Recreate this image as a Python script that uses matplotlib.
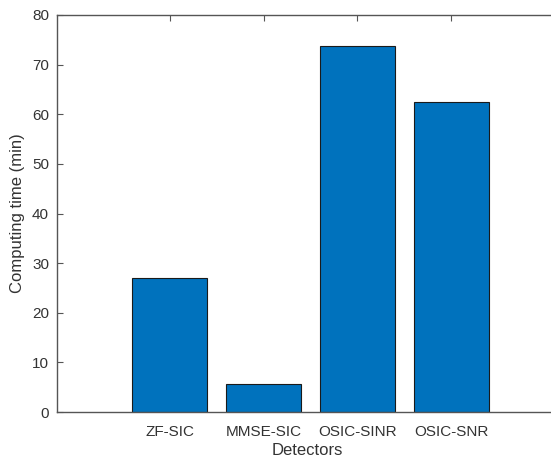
import matplotlib
matplotlib.use('Agg')
import matplotlib.pyplot as plt

# values
detectors = ['ZF-SIC', 'MMSE-SIC', 'OSIC-SINR', 'OSIC-SNR']
computing_time = [27.0, 5.7, 73.8, 62.5]
y_ticks = [0, 10, 20, 30, 40, 50, 60, 70, 80]

plt.rcParams['font.family'] = ['Liberation Sans', 'DejaVu Sans']

W, H = 551, 459
fig = plt.figure(figsize=(W / 100, H / 100), dpi=100)

# axes box in pixels: left 57, top 15, bottom 412, right runs off the image
left, top, bottom, right = 57.3, 15, 412, 557
ax = fig.add_axes([left / W, 1 - bottom / H, (right - left) / W, (bottom - top) / H])

pos = list(range(1, len(detectors) + 1))
ax.bar(pos, computing_time, width=0.8, color='#0072BD',
       edgecolor='#1a1a1a', linewidth=0.8, zorder=2)

ax.set_xlim(-0.2, 1 + (right - 169) / 94)
ax.set_ylim(0, 80)
ax.set_yticks(y_ticks)
ax.set_xticks(pos)
ax.set_xticklabels(detectors)

axis_col = '#555555'
text_col = '#333333'
for side in ['left', 'top', 'bottom']:
    ax.spines[side].set_color(axis_col)
    ax.spines[side].set_linewidth(1.0)
ax.spines['right'].set_visible(False)

ax.tick_params(direction='in', length=4, width=0.8, color=axis_col,
               labelcolor=text_col, labelsize=11, top=True, right=False,
               pad=6)
ax.tick_params(axis='x', pad=9)

ax.set_xlabel('Detectors', fontsize=12, color=text_col, labelpad=3)
ax.set_ylabel('Computing time (min)', fontsize=12, color=text_col, labelpad=5)

fig.savefig('out.png', dpi=100)
